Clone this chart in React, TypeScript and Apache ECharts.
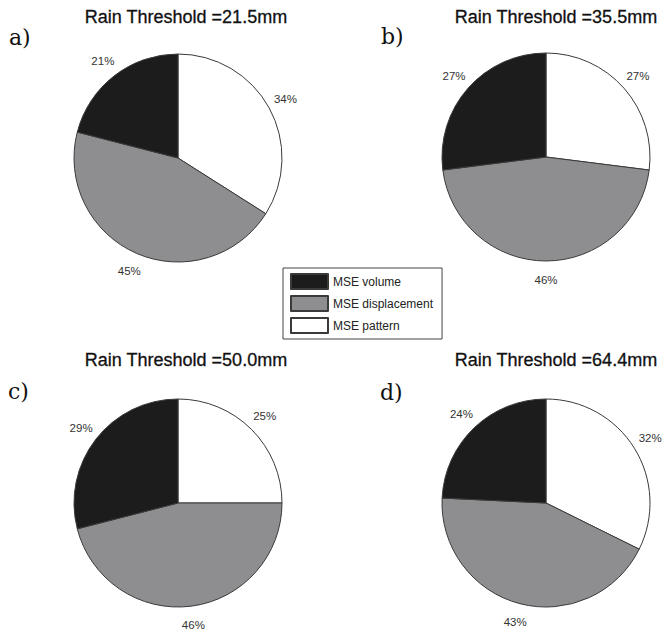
import React, { useEffect, useRef } from "react";
import * as echarts from "echarts";

const categories = ["MSE volume", "MSE displacement", "MSE pattern"];
const thresholds = ["21.5", "35.5", "50.0", "64.4"];
const panelLetters = ["a)", "b)", "c)", "d)"];
const volume = [21, 27, 29, 24];
const displacement = [45, 46, 46, 43];
const pattern = [34, 27, 25, 32];

const colors: Record<string, string> = {
  "MSE volume": "#1c1c1c",
  "MSE displacement": "#8e8e90",
  "MSE pattern": "#ffffff",
};

// layout per panel
const centers = [
  [178, 158],
  [546, 157],
  [178, 503],
  [546, 503],
];
const R = 104;
const LABEL_R = R * 1.15;
const titlePos = [
  [186, 17],
  [556, 17],
  [186, 360],
  [556, 360],
];
const letterPos = [
  [9, 37],
  [381, 36],
  [8, 391],
  [380, 392],
];

export default function App() {
  const ref = useRef<HTMLDivElement>(null);
  useEffect(() => {
    if (!ref.current) return;
    const chart = echarts.init(ref.current, undefined, { renderer: "svg" });
    const pieSeries: any[] = [];
    const labelSeries: any[] = [];
    thresholds.forEach((_, i) => {
      const values: Record<string, number> = {
        "MSE volume": volume[i],
        "MSE displacement": displacement[i],
        "MSE pattern": pattern[i],
      };
      const order = ["MSE pattern", "MSE displacement", "MSE volume"];
      const data = order.map((n) => ({
        name: n,
        value: values[n],
        itemStyle: { color: colors[n] },
      }));
      pieSeries.push({
        type: "pie",
        center: centers[i],
        radius: R,
        startAngle: 90,
        clockwise: true,
        silent: true,
        label: { show: false },
        labelLine: { show: false },
        itemStyle: { borderColor: "#3a3a3a", borderWidth: 1 },
        emphasis: { disabled: true },
        data,
      });
      labelSeries.push({
        type: "pie",
        center: centers[i],
        radius: [LABEL_R - 10, LABEL_R + 10],
        startAngle: 90,
        clockwise: true,
        silent: true,
        itemStyle: { color: "transparent", borderWidth: 0 },
        label: {
          show: true,
          position: "inside",
          formatter: "{c}%",
          color: "#333",
          fontSize: 11.5,
          fontFamily: "Liberation Sans, Arial, sans-serif",
        },
        labelLine: { show: false },
        emphasis: { disabled: true },
        data: order.map((n) => ({ name: n, value: values[n] })),
      });
    });

    const graphics: any[] = [];
    thresholds.forEach((t, i) => {
      graphics.push({
        type: "text",
        x: titlePos[i][0],
        y: titlePos[i][1],
        style: {
          text: `Rain Threshold =${t}mm`,
          textAlign: "center",
          textVerticalAlign: "middle",
          fontSize: 18,
          fontFamily: "Liberation Sans, Arial, sans-serif",
          fill: "#111",
          stroke: "#111",
          lineWidth: 0.3,
        },
      });
      graphics.push({
        type: "text",
        x: letterPos[i][0],
        y: letterPos[i][1],
        style: {
          text: panelLetters[i],
          textAlign: "left",
          textVerticalAlign: "middle",
          fontSize: 22,
          fontFamily: "DejaVu Serif, serif",
          fill: "#111",
        },
      });
    });

    chart.setOption({
      animation: false,
      backgroundColor: "#ffffff",
      legend: {
        orient: "vertical",
        left: 283,
        top: 268,
        data: categories,
        icon: "rect",
        itemWidth: 37,
        itemHeight: 15,
        itemGap: 5,
        padding: [5, 9, 5, 7],
        borderColor: "#444",
        borderWidth: 1,
        selectedMode: false,
        textStyle: {
          fontSize: 12,
          color: "#222",
          fontFamily: "Liberation Sans, Arial, sans-serif",
        },
      },
      graphic: graphics,
      series: [...pieSeries, ...labelSeries],
    });
    return () => chart.dispose();
  }, []);
  return (
    <div
      ref={ref}
      style={{ position: "absolute", left: 0, top: 0, width: 662, height: 639 }}
    />
  );
}
